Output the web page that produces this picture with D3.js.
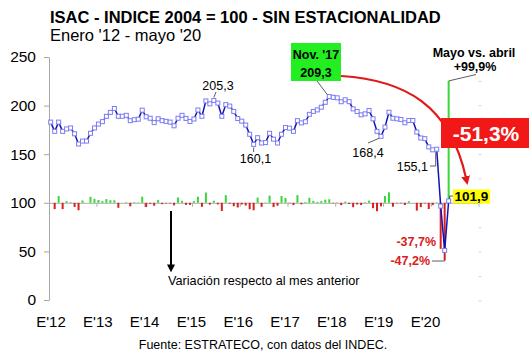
<!DOCTYPE html>
<html>
<head>
<meta charset="utf-8">
<script src="https://cdn.jsdelivr.net/npm/d3@7"></script>
<style>
  body { margin: 0; background: #fff; }
  svg { font-family: "Liberation Sans", Arial, sans-serif; display: block; }
</style>
</head>
<body>
<div id="chart"></div>
<script>
// ISAC index, seasonally adjusted, Jan 2012 .. May 2020 (one value per month)
const isac = [
  183, 173.5, 183, 173.5, 176, 177, 171, 160.5, 163.5, 163.5, 171.5, 177,
  181, 183.5, 189, 193, 197, 189, 189, 190, 184.5, 185.5, 186, 195.3,
  188.5, 187, 182.5, 186.5, 184.5, 183.8, 183, 179.2, 187, 190, 186.8, 183.7,
  186.2, 195.5, 189, 204.8, 201.8, 205.3, 202.6, 189, 201, 199.5, 194, 186.7,
  184, 180, 170.5, 160.1, 167, 161.5, 162, 171.5, 165.5, 161.5, 170.5, 177.4,
  176.8, 173.5, 184.5, 182.2, 183.4, 191, 194, 195.6, 198.3, 203.4, 209.3, 208.5,
  208, 204, 206, 204, 196.6, 193.9, 190.5, 191.5, 194.9, 186.4, 173.5, 168.4,
  177.9, 193.2, 187, 186.4, 185.7, 182.3, 184.7, 184.7, 172.8, 166.7, 166, 157.5,
  154.5, 155.1, 96.6, 51.0, 101.9
];

// monthly variation in % (bars drawn around the 100 line)
const variation = [
  null, -5.2, 5.5, -5.2, 1.4, 0.6, -3.4, -6.1, 1.9, 0.0, 4.9, 3.2,
  2.3, 1.4, 3.0, 2.1, 2.1, -4.1, 0.0, 0.5, -2.9, 0.5, 0.3, 5.0,
  -3.5, -0.8, -2.4, 2.2, -1.1, -0.4, -0.4, -2.1, 4.4, 1.6, -1.7, -1.7,
  1.4, 5.0, -3.3, 8.4, -1.5, 1.7, -1.3, -6.7, 6.3, -0.7, -2.8, -3.8,
  -1.4, -2.2, -5.3, -6.1, 4.3, -3.3, 0.3, 5.9, -3.5, -2.4, 5.6, 4.0,
  -0.3, -1.9, 6.3, -1.2, 0.7, 4.1, 1.6, 0.8, 1.4, 2.6, 2.9, -0.4,
  -0.2, -1.9, 1.0, -1.0, -3.6, -1.4, -1.8, 0.5, 1.8, -4.4, -6.9, -2.9,
  5.6, 8.6, -3.2, -0.3, -0.4, -1.8, 1.3, 0.0, -6.4, -3.5, -0.4, -5.1,
  -1.9, 0.4, -37.7, -47.2, 99.9
];

const yearLabels = ["E'12", "E'13", "E'14", "E'15", "E'16", "E'17", "E'18", "E'19", "E'20"];
const yTicks = [0, 50, 100, 150, 200, 250];
const barTicks = [-80, -60, -40, -20, 0, 20, 40, 60, 80, 100];
const nMonths = 108; // category axis runs to Dec 2020

const W = 530, H = 354;
const svg = d3.select("#chart").append("svg")
  .attr("width", W).attr("height", H);

// scales
const x = d3.scaleBand().domain(d3.range(nMonths)).range([48.7, 478.5]).padding(0);
const cx = i => x(i) + x.bandwidth() / 2;
const y = d3.scaleLinear().domain([0, 250]).range([300, 57]);
const base = y(100);
const yBar = d3.scaleLinear().domain([-100, 100]).range([base + 122, base - 122]);
const xLab = d3.scalePoint().domain(yearLabels).range([50.5, 425]);

// titles
svg.append("text").attr("x", 50).attr("y", 23)
  .attr("font-size", 16.5).attr("font-weight", "bold")
  .text("ISAC - INDICE 2004 = 100 - SIN ESTACIONALIDAD");
svg.append("text").attr("x", 50).attr("y", 41)
  .attr("font-size", 16.5)
  .text("Enero '12 - mayo '20");

// y axis
const yAxis = svg.append("g")
  .attr("transform", "translate(49,0)")
  .call(d3.axisLeft(y).tickValues(yTicks).tickSize(5).tickSizeOuter(0).tickPadding(8));
yAxis.select(".domain").attr("stroke", "#a6a6a6");
yAxis.selectAll(".tick line").attr("stroke", "#a6a6a6");
yAxis.selectAll(".tick text").attr("font-size", 15.5).attr("fill", "#000")
  .attr("font-family", "Liberation Sans, Arial, sans-serif");

// x labels
const xAxis = svg.append("g")
  .attr("transform", "translate(0,316)")
  .call(d3.axisBottom(xLab).tickSize(0).tickPadding(0));
xAxis.select(".domain").remove();
xAxis.selectAll(".tick text").attr("font-size", 15).attr("fill", "#000")
  .attr("font-family", "Liberation Sans, Arial, sans-serif");

// baseline of the variation bars (at 100) with yearly ticks
const xLin = d3.scaleLinear().domain([0, nMonths]).range(x.range());
const baseAxis = svg.append("g")
  .attr("transform", `translate(0,${base})`)
  .call(d3.axisBottom(xLin).tickValues(d3.range(12, nMonths + 1, 12)).tickFormat("").tickSize(4).tickSizeOuter(0));
baseAxis.select(".domain").attr("stroke", "#b0b0b0");
baseAxis.selectAll(".tick line").attr("stroke", "#b0b0b0");

// faint secondary axis ticks on the right
const rAxis = svg.append("g")
  .attr("transform", "translate(478.5,0)")
  .call(d3.axisRight(yBar).tickValues(barTicks).tickFormat("").tickSize(3).tickSizeOuter(0));
rAxis.select(".domain").remove();
rAxis.selectAll(".tick line").attr("stroke", "#d8d8d8");

// variation bars
svg.append("g").selectAll("rect")
  .data(variation.map((v, i) => ({ i, v })).filter(d => d.v !== null && d.v !== 0))
  .join("rect")
  .attr("x", d => cx(d.i) - 1)
  .attr("width", 2)
  .attr("y", d => Math.min(yBar(d.v), yBar(0)))
  .attr("height", d => Math.abs(yBar(d.v) - yBar(0)))
  .attr("fill", d => d.v > 0 ? "#3ad63a" : "#d82020");

// index line
const line = d3.line().x((d, i) => cx(i)).y(d => y(d));
svg.append("path").datum(isac)
  .attr("d", line)
  .attr("fill", "none")
  .attr("stroke", "#1212b8")
  .attr("stroke-width", 1.5);

svg.append("g").selectAll("rect")
  .data(isac)
  .join("rect")
  .attr("x", (d, i) => cx(i) - 2)
  .attr("y", d => y(d) - 2)
  .attr("width", 4).attr("height", 4)
  .attr("fill", "#fff")
  .attr("stroke", "#7d7df0")
  .attr("stroke-width", 1);

// helper for small text
function label(tx, ty, txt, opts = {}) {
  return svg.append("text").attr("x", tx).attr("y", ty)
    .attr("font-size", opts.size || 12.5)
    .attr("font-weight", opts.bold ? "bold" : null)
    .attr("fill", opts.fill || "#000")
    .attr("text-anchor", opts.anchor || "start")
    .text(txt);
}
function leader(pts, color) {
  svg.append("path").attr("d", d3.line()(pts))
    .attr("fill", "none").attr("stroke", color || "#333").attr("stroke-width", 0.8);
}

// point annotations
const pNov = [cx(70), y(isac[70])];
const pMax15 = [cx(41), y(isac[41])];
const pMin16 = [cx(51), y(isac[51])];
const pMin18 = [cx(83), y(isac[83])];
const pFeb20 = [cx(97), y(isac[97])];
const pMay20 = [cx(100), y(isac[100])];

label(218, 90, "205,3", { anchor: "middle" });
leader([[216, 92], [pMax15[0], pMax15[1] - 3]]);
label(255.5, 163, "160,1", { anchor: "middle" });
leader([[pMin16[0], 152], [pMin16[0], pMin16[1] + 3]]);
label(368, 157, "168,4", { anchor: "middle" });
leader([[368, 143], [pMin18[0] - 2, pMin18[1] + 2]]);
label(428, 171, "155,1", { anchor: "end" });
leader([[430, 166], [pFeb20[0] - 1, 166], [pFeb20[0] - 1, pFeb20[1] + 3]]);

// red curved arrow from Nov '17 box to May '20
const defs = svg.append("defs");
defs.append("marker").attr("id", "redhead")
  .attr("viewBox", "0 0 10 10").attr("refX", 2).attr("refY", 5)
  .attr("markerWidth", 4).attr("markerHeight", 4)
  .attr("orient", "auto")
  .append("path").attr("d", "M0,0L10,5L0,10Z").attr("fill", "#e01818");
defs.append("marker").attr("id", "blackhead")
  .attr("viewBox", "0 0 10 10").attr("refX", 2).attr("refY", 5)
  .attr("markerWidth", 4).attr("markerHeight", 4)
  .attr("orient", "auto")
  .append("path").attr("d", "M0,0L10,5L0,10Z").attr("fill", "#000");

const arc = d3.path();
arc.moveTo(341, 76);
arc.bezierCurveTo(405, 80, 450, 105, 466, 178);
svg.append("path").attr("d", arc.toString())
  .attr("fill", "none").attr("stroke", "#e01818").attr("stroke-width", 2.2)
  .attr("marker-end", "url(#redhead)");

// Nov '17 green box
leader([[317, 81], [pNov[0] - 2, pNov[1] - 2]]);
svg.append("rect").attr("x", 291).attr("y", 43).attr("width", 50).attr("height", 38)
  .attr("fill", "#22ee22");
label(316, 59, "Nov. '17", { bold: true, anchor: "middle" });
label(316, 77, "209,3", { bold: true, anchor: "middle" });

// -51,3% red box
svg.append("rect").attr("x", 441).attr("y", 118).attr("width", 88).attr("height", 30)
  .attr("fill", "#f21818");
label(486, 141, "-51,3%", { bold: true, anchor: "middle", size: 21, fill: "#fff" });

// May vs April
label(474, 57, "Mayo vs. abril", { bold: true, anchor: "middle" });
label(475, 71, "+99,9%", { bold: true, anchor: "middle" });
leader([[476, 74.5], [cx(100), yBar(99.9)]]);

// 101,9 yellow box
leader([[453, 196], [pMay20[0] + 1, 196], [pMay20[0] + 1, pMay20[1] - 2]]);
svg.append("rect").attr("x", 453).attr("y", 189.5).attr("width", 37).attr("height", 14)
  .attr("fill", "#ffff00");
label(471.5, 201, "101,9", { bold: true, anchor: "middle", size: 13.5 });

// big drops
label(436, 246, "-37,7%", { bold: true, anchor: "end", fill: "#d82020" });
label(430, 265, "-47,2%", { bold: true, anchor: "end", fill: "#d82020" });
leader([[432, 261], [cx(99), 261], [cx(99), yBar(-47.2)]]);

// black arrow + caption
svg.append("line").attr("x1", 171).attr("y1", 211).attr("x2", 171).attr("y2", 266)
  .attr("stroke", "#000").attr("stroke-width", 2)
  .attr("marker-end", "url(#blackhead)");
label(168, 285, "Variación respecto al mes anterior", { size: 12.7 });

// source
label(263, 349, "Fuente: ESTRATECO, con datos del INDEC.", { size: 12.5, anchor: "middle" });
</script>
</body>
</html>
